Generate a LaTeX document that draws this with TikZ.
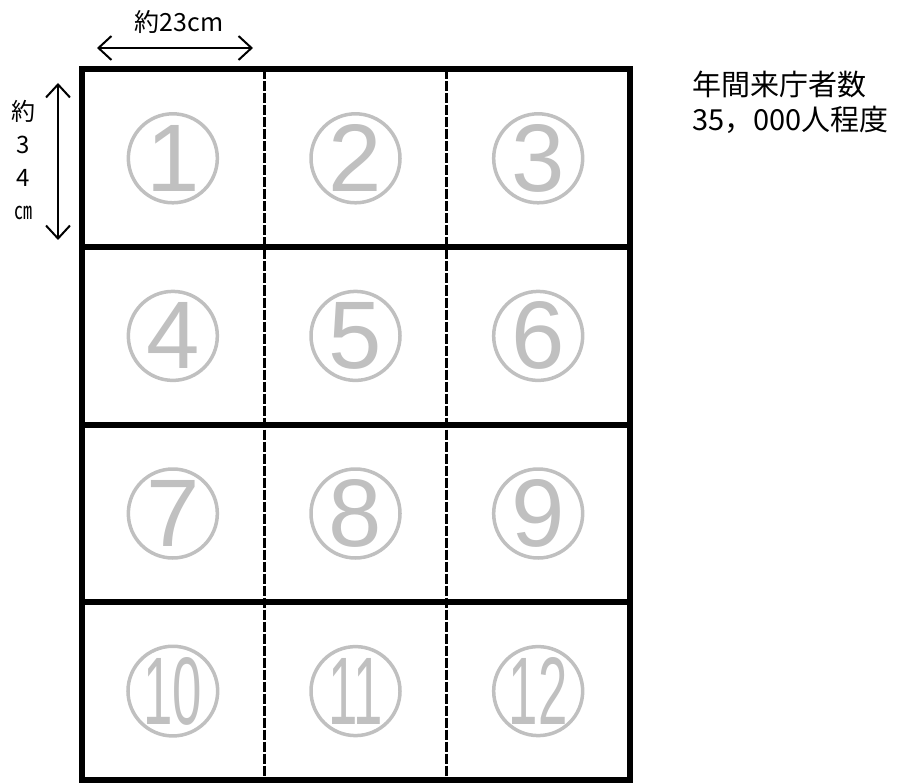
\documentclass[tikz,border=0pt]{standalone}
\usepackage{fontspec}
\usepackage{graphicx}
\usepackage{tikz}
\usetikzlibrary{positioning}
\usetikzlibrary{calc}
\usetikzlibrary{arrows.meta}

\newfontfamily\jpfont{Noto Sans CJK JP}
\newfontfamily\numfont{Liberation Sans}
\definecolor{numgray}{RGB}{192,192,192}

\tikzset{
    cellnum/.style={circle, draw=numgray, line width=3.5pt, text=numgray, minimum size=89pt, inner sep=0pt,
        font=\numfont\fontsize{96}{96}\selectfont},
    sizearrow/.style={line width=2pt, {Straight Barb[length=13pt,width=24pt]}-{Straight Barb[length=13pt,width=24pt]}},
    border/.style={line width=6pt},
    fold/.style={line width=3pt, dash pattern=on 10pt off 2pt},
}

\begin{document}
\begin{tikzpicture}[x=1pt, y=-1pt]
    \useasboundingbox (0,0) rectangle (901,783);

    \coordinate (topleft) at (81.5, 69.5);
    \coordinate (botright) at (629.5, 780);
    \def\cw{182.67}
    \def\ch{177.6}

    % folds
    \foreach \c in {1,2} {
        \draw[fold] ($(topleft)+(\c*\cw,0)$) -- ($(topleft)+(\c*\cw,4*\ch)$);
    }
    \foreach \r in {1,2,3} {
        \draw[border] ($(topleft)+(0,\r*\ch)$) -- ($(topleft)+(3*\cw,\r*\ch)$);
    }
    \draw[border] (topleft) rectangle (botright);

    \foreach \n in {1,...,12} {
        \pgfmathtruncatemacro{\col}{mod(\n-1,3)}
        \pgfmathtruncatemacro{\row}{int((\n-1)/3)}
        \ifnum\n>9
            \node[cellnum] (num\n) at ($(topleft)+({(\col+0.5)*\cw},{(\row+0.5)*\ch})$) {\scalebox{0.55}[1]{\n}};
        \else
            \node[cellnum] (num\n) at ($(topleft)+({(\col+0.5)*\cw},{(\row+0.5)*\ch})$) {\n};
        \fi
    }

    % size arrows
    \coordinate (wleft) at (97, 48);
    \coordinate (wright) at (253, 48);
    \coordinate (htop) at (58, 83);
    \coordinate (hbot) at (58, 240);
    \draw[sizearrow] (wleft) -- (wright);
    \draw[sizearrow] (htop) -- (hbot);

    \node[font=\jpfont\fontsize{25}{25}\selectfont] (width) at (179, 22) {約23cm};
    \node[font=\jpfont\fontsize{24}{33}\selectfont, align=center, inner sep=0pt] (height) at (23, 160) {約\\3\\4\\\scalebox{0.75}[1]{㎝}};

    \node[font=\jpfont\fontsize{29}{35}\selectfont, align=left, anchor=west, inner sep=0pt] (visitors) at (692, 102) {年間来庁者数\\35，000人程度};
\end{tikzpicture}
\end{document}
